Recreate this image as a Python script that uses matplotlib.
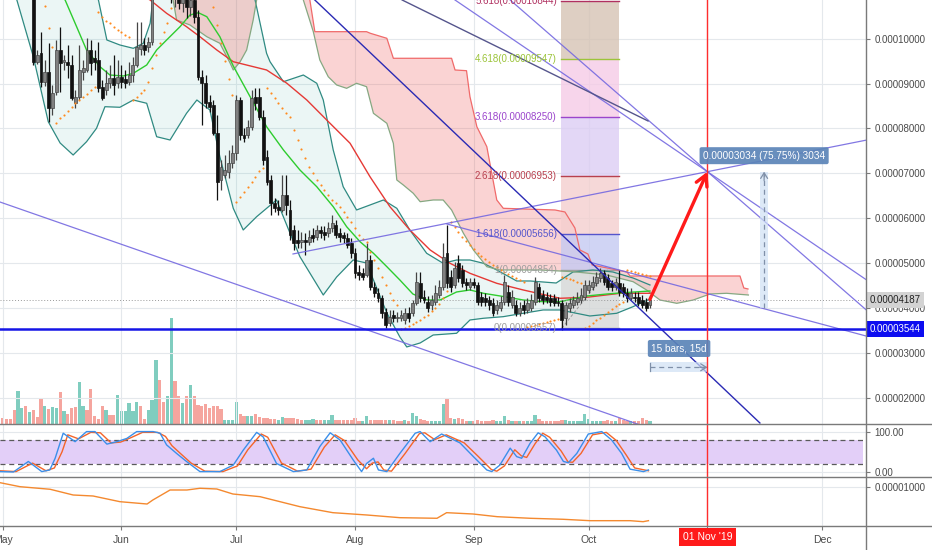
import numpy as np
import pandas as pd
import matplotlib
matplotlib.use("Agg")
import matplotlib.pyplot as plt
import matplotlib.transforms as mtransforms
from matplotlib.lines import Line2D
from matplotlib.ticker import FuncFormatter

plt.rcParams['font.family'] = ['Liberation Sans', 'DejaVu Sans']

base = pd.Timestamp('2019-05-01')          # day 0 of the x axis
# prices are in satoshi (1e-8 BTC)

# ---- daily candles, first one on day 8 (2019-05-09)
first_day = 8
opens = [
    11080, 9480, 9680, 9035, 9257, 8456, 8812, 9747, 9480, 9480,
    9413, 8567, 8701, 9257, 9302, 9747, 9569, 9524, 8923, 8857,
    9012, 9124, 9012, 9146, 9101, 9035, 9190, 9413, 9769, 9858,
    9813, 9925, 11080, 11350, 11200, 11500, 11150, 10950, 11200, 10800,
    11000, 10700, 10850, 10481, 9146, 9012, 8590, 8523, 7900, 6854,
    6965, 7032, 7232, 7455, 8634, 7855, 7855, 8033, 8701, 8701,
    8256, 7366, 6854, 6342, 6253, 6187, 6520, 6187, 5742, 5519,
    5475, 5519, 5475, 5630, 5586, 5742, 5697, 5675, 5786, 5853,
    5675, 5630, 5564, 5452, 5230, 4807, 4785, 4740, 5074, 4473,
    4340, 4229, 3917, 3672, 3850, 3784, 3784, 3739, 3895, 3895,
    4117, 4562, 4251, 4140, 4073, 4140, 4295, 4473, 5230, 4696,
    4518, 5007, 4852, 4585, 4473, 4585, 4518, 4251, 4229, 4184,
    4117, 3962, 4006, 4140, 4362, 4073, 4073, 3895, 4073, 3962,
    4006, 4140, 4473, 4295, 4251, 4229, 4229, 4140, 4117, 3784,
    4006, 4073, 4140, 4184, 4251, 4407, 4473, 4562, 4674, 4785,
    4674, 4562, 4473, 4562, 4473, 4340, 4229, 4251, 4251, 4184,
    4140, 4073]
highs = [
    11300, 9747, 10147, 9524, 9902, 8968, 9969, 10258, 9635, 9858,
    9635, 8857, 9858, 9524, 10014, 9969, 9747, 9925, 9079, 9302,
    9413, 9635, 9524, 9413, 9302, 9480, 9591, 10370, 10370, 10014,
    10036, 11527, 11600, 11700, 11800, 11700, 11400, 11400, 11300, 11200,
    11100, 11000, 11000, 10636, 9302, 9190, 8745, 8634, 8300, 7299,
    7410, 7522, 7633, 8745, 8701, 8011, 8189, 8857, 8901, 8901,
    8412, 7522, 6965, 6454, 6409, 6965, 6965, 6409, 5853, 5742,
    5697, 5675, 5742, 5786, 5853, 5831, 5831, 5920, 6075, 5964,
    5786, 5697, 5675, 5564, 5341, 4963, 4896, 5452, 5185, 4585,
    4451, 4295, 4006, 3962, 3962, 3917, 3962, 4006, 4028, 4184,
    4807, 4807, 4407, 4273, 4295, 4518, 4629, 5452, 5853, 4852,
    5030, 5185, 4963, 4674, 4674, 4674, 4585, 4362, 4340, 4273,
    4229, 4184, 4273, 4740, 4518, 4407, 4184, 4140, 4184, 4229,
    4318, 4696, 4562, 4407, 4362, 4318, 4318, 4251, 4184, 4140,
    4229, 4273, 4362, 4451, 4629, 4629, 4718, 4807, 4896, 4852,
    4763, 4629, 4674, 4852, 4562, 4451, 4451, 4362, 4362, 4295,
    4229, 4273]
lows = [
    9413, 9435, 8923, 8945, 8145, 8300, 8745, 8812, 9302, 9124,
    8634, 8456, 8634, 9079, 9257, 9190, 9302, 8812, 8634, 8745,
    8901, 8745, 8901, 8901, 8901, 8968, 9035, 9368, 9635, 9635,
    9702, 9858, 10900, 11000, 11100, 11000, 10800, 10700, 10650, 10600,
    10450, 10500, 10350, 9079, 8078, 8456, 8367, 7855, 6409, 6632,
    6899, 6899, 7121, 7299, 7744, 7700, 7789, 7967, 8412, 8189,
    7188, 6743, 6075, 6142, 6075, 6142, 6075, 5519, 5297, 5341,
    5341, 5185, 5408, 5475, 5519, 5564, 5519, 5586, 5697, 5564,
    5475, 5452, 5341, 5119, 4674, 4629, 4629, 4696, 4407, 4251,
    4140, 3784, 3561, 3606, 3695, 3695, 3717, 3650, 3695, 3828,
    4073, 4140, 4117, 3917, 3962, 4073, 4229, 4407, 4451, 4362,
    4451, 4585, 4473, 4407, 4407, 4451, 4073, 4051, 4051, 3962,
    3828, 3873, 3939, 4073, 4051, 4006, 3828, 3828, 3873, 3895,
    3939, 4073, 4140, 4095, 4117, 4051, 4051, 4051, 3517, 3628,
    3917, 4006, 4073, 4117, 4184, 4340, 4407, 4496, 4585, 4518,
    4407, 4384, 4407, 4273, 4251, 4140, 4184, 4140, 4051, 4006,
    3939, 4006]
closes = [
    9480, 9635, 9035, 9257, 8456, 8790, 9747, 9457, 9524, 9413,
    8679, 8701, 9302, 9346, 9747, 9457, 9480, 8901, 8679, 9012,
    9124, 8968, 9146, 9035, 9012, 9190, 9413, 9813, 9858, 9747,
    9925, 11080, 11350, 11200, 11500, 11150, 10950, 11200, 10800, 11000,
    10700, 10850, 10480, 9146, 9012, 8567, 8478, 7900, 6810, 7143,
    7077, 7232, 7455, 8634, 7855, 7789, 8033, 8679, 8567, 8256,
    7299, 6810, 6342, 6231, 6187, 6520, 6298, 5630, 5452, 5452,
    5519, 5475, 5586, 5564, 5742, 5675, 5630, 5786, 5897, 5630,
    5586, 5564, 5408, 5230, 4785, 4740, 4696, 5074, 4473, 4340,
    4229, 3895, 3628, 3806, 3784, 3806, 3850, 3895, 3784, 4117,
    4585, 4229, 4184, 4006, 4184, 4340, 4473, 5141, 4562, 4473,
    4896, 4674, 4562, 4518, 4585, 4518, 4140, 4140, 4140, 4073,
    3895, 4073, 4140, 4585, 4140, 4251, 3895, 4006, 3962, 4117,
    4184, 4585, 4229, 4184, 4184, 4140, 4117, 4117, 3739, 4073,
    4117, 4184, 4229, 4295, 4518, 4518, 4585, 4696, 4785, 4585,
    4473, 4473, 4585, 4362, 4340, 4229, 4340, 4229, 4117, 4073,
    4006, 4187]

# ---- volume (arbitrary units), first bar on day -1, u = up bar, d = down bar
vol_first_day = -1
volumes = [
    9, 6, 5, 5, 14, 33, 16, 18, 12, 14,
    7, 25, 18, 15, 17, 16, 32, 13, 10, 16,
    17, 42, 18, 14, 35, 8, 5, 18, 14, 9,
    9, 29, 13, 13, 21, 13, 22, 18, 5, 14,
    24, 64, 44, 22, 28, 106, 43, 28, 21, 28,
    39, 28, 19, 18, 20, 16, 18, 18, 15, 4,
    4, 4, 22, 10, 8, 8, 8, 10, 7, 6,
    6, 5, 5, 4, 7, 6, 6, 6, 5, 4,
    4, 4, 5, 4, 4, 4, 4, 9, 4, 4,
    4, 4, 4, 6, 3, 3, 8, 4, 4, 4,
    4, 4, 4, 4, 3, 3, 4, 3, 11, 8,
    5, 4, 3, 3, 3, 3, 20, 25, 6, 5,
    6, 5, 3, 3, 3, 4, 3, 3, 3, 4,
    3, 3, 8, 4, 3, 3, 3, 3, 3, 3,
    9, 5, 3, 3, 3, 3, 3, 4, 4, 3,
    3, 3, 3, 10, 5, 3, 3, 3, 3, 4,
    3, 3, 6, 4, 3, 3, 3, 3, 6, 4,
    3]
vol_side = ("ddddduudud dduduududd duudddddud duuuuuuddu uudduuddud "
            "uddddddddu uuudduuddd ddduuddddd uuudduuudd ddddduuddd "
            "dduddduduu ddduuuuddu dddudddddd uuudududuu uddddddduu "
            "uuuuuuuudd dudddudddd u").replace(" ", "")

# ---- Bollinger bands and moving average (day, price)
bb_up_days = [-1, 10, 20, 25.0, 27.2, 30.6, 34.1, 36.7, 38.5, 39.2, 45, 55, 62, 65.9, 68.9,
              69.8, 73.3, 78.5, 82.0, 83.7, 86.3, 88.9, 92.4, 95.9, 99.4, 102.9, 106.3, 110.7,
              115.0, 118.5, 122.0, 125.5, 129.0, 134.2, 137.7, 144.5, 148.9, 154.1, 159.3,
              164.6, 169.0]
bb_up_vals = [12300, 11900, 11300, 10859, 9969, 9858, 9784, 9896, 10341, 10859, 12100, 12300,
              11400, 10859, 9673, 9486, 9041, 9190, 9006, 8634, 7522, 6705, 6187, 6298, 6409,
              6224, 5742, 5223, 5001, 5074, 5074, 5001, 4852, 4607, 4607, 4562, 4807, 4852,
              4807, 4673, 4518]
bb_lo_days = [-1, 3.7, 8.0, 11.9, 15.0, 18.4, 21.9, 24.5, 26.7, 30.6, 34.1, 37.6, 40.2, 43.7,
              48.0, 50.7, 54.1, 56.7, 60.2, 62.8, 66.3, 71.5, 75.0, 77.6, 83.7, 87.2, 91.5,
              95.0, 100.3, 103.7, 105.5, 109.0, 112.4, 118.5, 122.0, 125.5, 130.7, 135.9,
              141.1, 145.5, 153.3, 160.3, 164.6, 169.0]
bb_lo_vals = [11400, 10859, 9597, 8151, 7677, 7410, 7706, 8004, 8485, 8472, 8634, 8561, 7817,
              7744, 8338, 8634, 8412, 7372, 6224, 5742, 6037, 6409, 5675, 5148, 4295, 4696,
              5074, 5007, 3895, 3361, 3139, 3228, 3405, 3443, 3739, 3777, 3813, 3888, 3962,
              3962, 3828, 3888, 4036, 4206]
bb_mid_days = [-1, 8, 16.3, 19.3, 21.9, 25.4, 28.0, 31.5, 34.1, 37.6, 40.2, 42.8, 46.3, 48.9,
               51.1, 53.3, 56.7, 60.2, 64.6, 68.9, 73.3, 77.6, 82.0, 86.3, 89.8, 93.3, 96.8,
               100.3, 103.7, 107.1, 110.8, 114.2, 118.5, 122.0, 125.5, 130.7, 135.9, 141.1,
               145.5, 152.5, 157.7, 162.9, 169.0]
bb_mid_vals = [12000, 11600, 10859, 10265, 9747, 9375, 9190, 9168, 9228, 9413, 9747, 9969,
               10265, 10525, 10576, 10487, 10042, 9390, 8707, 8040, 7522, 7077, 6705, 6260,
               5815, 5481, 5223, 4925, 4629, 4317, 4184, 4184, 4362, 4407, 4333, 4262, 4184,
               4146, 4146, 4273, 4317, 4351, 4384]
ma_days = [-1, 20, 38.5, 42.8, 48.0, 51.5, 55.9, 60.2, 68.9, 74.2, 79.4, 84.6, 90.7, 95.9,
           101.1, 106.3, 111.6, 116.8, 122.0, 129.0, 135.9, 145.5, 152.5, 161.2, 169.0]
ma_vals = [12600, 11700, 10859, 10563, 10265, 10042, 9747, 9486, 9302, 9006, 8634, 8189,
           7671, 6927, 6260, 5742, 5297, 5001, 4778, 4555, 4407, 4222, 4244, 4333, 4333]

# ---- Ichimoku cloud edges
span_lo_days = [40, 44.5, 45.4, 48.9, 53.3, 56.7, 59.4, 60.2, 62.0, 63.7, 65.4, 66.3, 72, 76,
                78.5, 81.1, 82.8, 85.0, 87.2, 89.8, 92.4, 95.0, 96.8, 100.3, 102.0, 102.9,
                104.6, 107.2, 109.0, 112.4, 115.0, 117.2, 120.3, 122.9, 126.4, 129.8, 140.3,
                148.9, 157.7, 164.6, 168.1, 171.6, 176.0, 180.3, 184.7, 189.0, 194.7]
span_lo_vals = [11500, 10859, 10414, 10303, 10042, 9896, 9451, 9302, 9486, 9747, 10414,
                10859, 11600, 11400, 10859, 10154, 9524, 9152, 8968, 8894, 9006, 8930, 8338,
                8115, 7670, 6854, 6743, 6558, 6371, 6409, 6409, 6187, 5668, 5297, 4925, 4852,
                4852, 4814, 4740, 4591, 4407, 4184, 4110, 4184, 4318, 4333, 4295]
span_hi_days = [40, 70, 78, 80.2, 81.5, 95.0, 96.0, 100.3, 102.0, 117.2, 118.1, 121.1, 122.0,
                123.8, 126.4, 129.0, 130.7, 144.2, 146.8, 149.4, 150.7, 152.8, 153.9, 163.0,
                163.8, 192.5, 193.5, 194.6]
span_hi_vals = [12500, 11800, 11500, 10859, 10154, 10154, 10118, 10007, 9562, 9562, 9302,
                9286, 8707, 8040, 7595, 6409, 6224, 6187, 6142, 5786, 5297, 5207, 4963, 4807,
                4718, 4718, 4451, 4429]

# ---- parabolic SAR: (first day, values)
sar_segments = [
    (11, [10726, 10236, 9813]),
    (14, [8116, 8227, 8300, 8389, 8472, 8561, 8634, 8707, 8767, 8857, 8930]),
    (25, [10599, 10487, 10398, 10341, 10265, 10192, 10140, 10080, 10029]),
    (34, [8634, 8707, 8783, 8857, 9041, 9339, 9635, 9909, 10154, 10341, 10674]),
    (55, [10700, 10300, 9900, 9500, 9100, 8750]),
    (61, [6371, 6476, 6587, 6698, 6809, 6921, 7054, 7121]),
    (69, [8894, 8783, 8672, 8561, 8449, 8351, 8249, 7967, 7744, 7537, 7337, 7150, 7003, 6854,
          6743, 6632, 6520, 6409, 6336, 6247, 6149, 6037, 5926, 5779, 5630, 5540, 5470, 5250,
          5080, 4889, 4702, 4518, 4333, 4184, 4073]),
    (104, [3539, 3570, 3600, 3640, 3690, 3740, 3800, 3860, 3930, 4000, 4100, 4230, 4380]),
    (117, [5920, 5808, 5697, 5586, 5497, 5408, 5319, 5230, 5163, 5096, 5030, 4963, 4918, 4852,
           4807, 4763, 4718, 4674, 4629, 4585]),
    (137, [3583, 3605, 3628, 3650, 3672, 3694, 3717, 3739, 3761]),
    (146, [4696, 4674, 4651, 4629, 4585, 4562]),
    (152, [3561, 3606, 3672, 3739, 3784, 3850, 3917, 3984, 4051, 4095, 4140]),
    (163, [4852, 4829, 4807, 4785, 4763, 4740, 4718]),
]

# ---- stochastic RSI
stk_days = [-0.7, 2.8, 6.7, 10.2, 12.3, 13.7, 15.8, 18.9, 21.9, 24.1, 27.2, 29.8, 32.4, 35.0,
            39.3, 41.1, 42.8, 45.4, 48.0, 51.5, 56.7, 60.2, 62.8, 66.3, 68.0, 71.5, 75.9, 79.4,
            82.8, 85.5, 88.1, 91.5, 93.7, 95.0, 96.8, 98.1, 100.3, 103.7, 107.7, 109.0, 111.6,
            114.6, 119.4, 122.9, 126.4, 127.7, 129.8, 132.5, 134.2, 135.5, 137.7, 139.8,
            141.6, 144.6, 146.4, 147.7, 149.9, 152.9, 156.4, 159.0, 161.6, 163.8, 167.3, 168.6]
stk_vals = [1, 0, 26, 1, 5, 34, 96, 75, 100, 100, 69, 75, 83, 100, 100, 96, 67, 46, 26, 1,
            1, 17, 54, 98, 87, 21, 1, 5, 63, 97, 79, 30, 1, 21, 34, 5, 1, 46, 96, 100,
            75, 94, 72, 38, 5, 1, 17, 59, 38, 34, 71, 97, 87, 54, 26, 23, 46, 94, 100, 79,
            46, 7, 1, 5]
std_days = [-0.7, 3.5, 7.8, 11.3, 13.5, 15.5, 17.0, 19.8, 23.0, 25.5, 28.3, 30.8, 33.5, 36.5,
            40.5, 42.5, 44.2, 46.5, 49.2, 52.8, 57.5, 61.3, 64.0, 67.5, 69.2, 72.8, 77.0, 80.5,
            84.0, 86.8, 89.2, 92.7, 95.0, 96.5, 98.0, 99.5, 101.5, 105.0, 108.8, 110.2, 112.8,
            115.8, 120.5, 124.0, 127.6, 129.0, 131.0, 133.7, 135.4, 136.8, 139.0, 141.0,
            142.8, 145.8, 147.6, 148.8, 151.0, 154.0, 157.6, 160.2, 162.8, 165.0, 168.6]
std_vals = [3, 1, 22, 3, 10, 50, 92, 82, 98, 97, 72, 74, 85, 98, 98, 88, 65, 45, 22, 2,
            1, 15, 55, 94, 86, 22, 2, 7, 62, 92, 78, 30, 8, 22, 25, 5, 2, 45, 95, 97,
            80, 92, 72, 40, 6, 2, 15, 55, 40, 36, 70, 96, 86, 52, 25, 24, 46, 92, 98, 78,
            42, 10, 3]

# ---- lower indicator
ind_days = [-0.7, 4.5, 12.4, 18.4, 23.6, 30.6, 37.7, 39.2, 43.7, 48.1, 51.5, 55.9, 60.1, 67.2,
            77.6, 86.2, 95.1, 103.7, 113.4, 115.9, 122.8, 129.1, 137.7, 146.3, 153.3, 163.8,
            167.2, 168.6]
ind_vals = [1108, 1008, 943, 800, 775, 633, 575, 675, 925, 925, 968, 950, 825, 758, 508, 358,
            300, 233, 218, 358, 325, 258, 218, 193, 158, 158, 133, 158]

# ---- drawings: (day, price) end points
trend_lines = [
    ([-0.7, 180.0], [6364, 1000]),
    ([116.0, 225.4], [5875, 3383]),
    ([75.8, 225.4], [5208, 7740]),
    ([118.1, 225.4], [10859, 4639]),
    ([132.5, 225.4], [10859, 3968]),
]
blue_line = ([81.5, 197.7], [10859, 1447])
dark_line = ([104.3, 168.5], [10859, 8167])
fib_ratio = [0, 1, 1.618, 2.618, 3.618, 4.618, 5.618]
fib_price = [3557, 4854, 5656, 6953, 8250, 9547, 10844]
fib_start, fib_end = 145.8, 160.8
support = 3544
target_day = (pd.Timestamp('2019-11-01') - base).days
target_price = 7039
range_low = 4005
range_day = 198.8
bars_ahead = 15

# ------------------------------------------------------------------ layout
W, H = 932, 550
fig = plt.figure(figsize=(W / 100, H / 100), dpi=100)
fig.patch.set_facecolor('white')


def rect(top, bottom, right=866):
    return [0, 1 - bottom / H, right / W, (bottom - top) / H]


ax_vol = fig.add_axes(rect(318, 424.3))
ax = fig.add_axes(rect(0, 424.3))
ax_st = fig.add_axes(rect(425, 477))
ax_bt = fig.add_axes(rect(477, 525.7))
ax.patch.set_alpha(0)

x0, x1 = -0.7, 225.4
months = pd.date_range('2019-05-01', '2019-12-01', freq='MS')
month_pos = np.array((months - base).days)
month_lbl = [m.strftime('%b') if m.month != 11 else '' for m in months]
grid_c = '#e4e8ec'
axis_c = '#7a7a7a'
txt_c = '#4a4a4a'

for a in (ax_vol, ax, ax_st, ax_bt):
    a.set_xlim(x0, x1)
    for s in a.spines.values():
        s.set_visible(False)
ax_vol.axis('off')

for a in (ax, ax_st, ax_bt):
    a.set_xticks(month_pos)
    a.grid(True, color=grid_c, lw=0.8)
    a.set_axisbelow(True)
    a.yaxis.tick_right()
    a.tick_params(axis='y', length=3, width=0.8, pad=3, colors=axis_c,
                  labelcolor=txt_c, labelsize=7)
for a in (ax, ax_st):
    a.tick_params(axis='x', length=0, labelbottom=False)
ax_bt.set_xticklabels(month_lbl)
ax_bt.tick_params(axis='x', length=3, width=0.8, pad=4, colors=axis_c,
                  labelcolor=txt_c, labelsize=7.5)

price_fmt = FuncFormatter(lambda v, p: f"{v / 1e8:.8f}")

# ------------------------------------------------------------------ volume
vdays = np.arange(vol_first_day, vol_first_day + len(volumes))
vcol = ['#80cdbf' if s == 'u' else '#f5a59e' for s in vol_side]
ax_vol.bar(vdays, volumes, width=0.85, color=vcol, linewidth=0)
ax_vol.set_ylim(0, 106.3)

# ------------------------------------------------------------------ main pane
ax.set_ylim(1418, 10859)
ax.set_yticks(np.arange(2000, 10001, 1000))
ax.yaxis.set_major_formatter(price_fmt)

ax.fill(np.concatenate([bb_up_days, bb_lo_days[::-1]]),
        np.concatenate([bb_up_vals, bb_lo_vals[::-1]]),
        color='#26a69a', alpha=0.09, lw=0, zorder=1)
ax.fill(np.concatenate([span_hi_days, span_lo_days[::-1]]),
        np.concatenate([span_hi_vals, span_lo_vals[::-1]]),
        color='#ef5350', alpha=0.25, lw=0, zorder=1.2)

# fibonacci extension boxes
fib_fill = ['#d9d9d9', '#c5caf2', '#f4cfcf', '#dccdf4', '#f5cbe6', '#d6c3b4']
fib_line = ['#9e9e9e', '#9e9e9e', '#5555cc', '#b8404e', '#9b45cc', '#9cc43a', '#b03060']
for i in range(len(fib_price) - 1):
    ax.fill_between([fib_start, fib_end], fib_price[i], fib_price[i + 1],
                    color=fib_fill[i], alpha=0.8, lw=0, zorder=1.4)
for r, p, c in zip(fib_ratio, fib_price, fib_line):
    ax.plot([fib_start, fib_end], [p, p], color=c, lw=1, zorder=2)
    ax.text(fib_start - 1.1, p, f"{r:g}({p / 1e8:.8f})", color=c, fontsize=7,
            ha='right', va='center', zorder=9)
ax.plot([146, 158], [fib_price[0], fib_price[1]], color='#9a9a9a', lw=0.7,
        ls=(0, (3, 2)), zorder=2)

ax.plot(bb_up_days, bb_up_vals, color='#2f8a82', lw=0.9, zorder=2)
ax.plot(bb_lo_days, bb_lo_vals, color='#2f8a82', lw=0.9, zorder=2)
ax.plot(span_lo_days, span_lo_vals, color='#86a882', lw=0.9, zorder=2)
ax.plot(span_hi_days, span_hi_vals, color='#f06a6a', lw=0.9, zorder=2)
ax.plot(ma_days, ma_vals, color='#e53935', lw=1.0, zorder=3)
ax.plot(bb_mid_days, bb_mid_vals, color='#2ecc2e', lw=1.0, zorder=3)

# candles
o, h, l, c = (np.array(v, float) for v in (opens, highs, lows, closes))
days = np.arange(first_day, first_day + len(c))
up = c >= o
body_c = np.where(up, '#808080', '#111111')
edge_c = np.where(up, '#444444', '#111111')
ax.vlines(days, l, h, colors=edge_c, lw=0.9, zorder=4)
ax.bar(days, np.maximum(np.abs(c - o), 20), bottom=np.minimum(o, c), width=0.75,
       color=body_c, edgecolor=edge_c, lw=0.5, zorder=5)

for start, vals in sar_segments:
    ax.scatter(np.arange(start, start + len(vals)), vals, s=2.4, color='#ff8a1e',
               lw=0, zorder=5.5)

# drawings
for xs, ys in trend_lines:
    ax.plot(xs, ys, color='#7468e0', lw=0.9, alpha=0.9, zorder=6)
ax.plot(*blue_line, color='#2a2ab4', lw=1.0, zorder=6)
ax.plot(*dark_line, color='#55558c', lw=1.0, zorder=6)
ax.axhline(support, color='#1515e6', lw=1.8, zorder=6.5)
ax.axhline(closes[-1], color='#999999', lw=0.7, ls=(0, (1, 2)), zorder=3)

ax.annotate('', xy=(target_day, target_price), xytext=(days[-1], closes[-1] + 13),
            arrowprops=dict(arrowstyle='->,head_length=0.55,head_width=0.3',
                            color='#ff1a1a', lw=2.4, shrinkA=0, shrinkB=0,
                            mutation_scale=14), zorder=8)

# price range measure
ax.fill_betweenx([range_low, target_price], range_day - 1, range_day + 1,
                 color='#cfe0f5', alpha=0.7, lw=0, zorder=6)
ax.plot([range_day, range_day], [range_low, target_price - 40], color='#8090a8', lw=0.9,
        ls=(0, (4, 3)), zorder=6.2)
ax.annotate('', xy=(range_day, target_price), xytext=(range_day, target_price - 200),
            arrowprops=dict(arrowstyle='->,head_length=0.4,head_width=0.25',
                            color='#8090a8', lw=0.9, shrinkA=0, shrinkB=0), zorder=6.2)
ax.text(range_day, 7395, '0.00003034 (75.75%) 3034', color='white', fontsize=7.2,
        ha='center', va='center', zorder=9,
        bbox=dict(boxstyle='round,pad=0.35,rounding_size=0.2', fc='#5b84b8', ec='none',
                  alpha=0.92))

# date range measure
dr_y = 2686
ax.fill_between([days[-1], days[-1] + bars_ahead], dr_y - 111, dr_y + 111,
                color='#cfe0f5', alpha=0.7, lw=0, zorder=6)
ax.plot([days[-1], days[-1] + bars_ahead - 0.4], [dr_y, dr_y], color='#7f90a8', lw=0.9,
        ls=(0, (4, 3)), zorder=6.2)
ax.plot([days[-1], days[-1]], [dr_y - 90, dr_y + 90], color='#7f90a8', lw=0.9, zorder=6.2)
ax.annotate('', xy=(days[-1] + bars_ahead, dr_y), xytext=(days[-1] + bars_ahead - 2, dr_y),
            arrowprops=dict(arrowstyle='->,head_length=0.4,head_width=0.25',
                            color='#7f90a8', lw=0.9, shrinkA=0, shrinkB=0), zorder=6.2)
ax.text(days[-1] + 7.6, 3105, '15 bars, 15d', color='white', fontsize=7.2,
        ha='center', va='center', zorder=9,
        bbox=dict(boxstyle='round,pad=0.35,rounding_size=0.2', fc='#5b84b8', ec='none',
                  alpha=0.92))

# right price labels
bt = mtransforms.blended_transform_factory(ax.transAxes, ax.transData)
ax.text(1.004, closes[-1], f"{closes[-1] / 1e8:.8f}", transform=bt, ha='left',
        va='center', fontsize=7, color='#222222', clip_on=False, zorder=10,
        bbox=dict(boxstyle='square,pad=0.32', fc='#d3d3d3', ec='none'))
ax.text(1.004, support, f"{support / 1e8:.8f}", transform=bt, ha='left', va='center',
        fontsize=7, color='white', clip_on=False, zorder=10,
        bbox=dict(boxstyle='square,pad=0.32', fc='#0d0df0', ec='none'))

# ------------------------------------------------------------------ stoch RSI pane
ax_st.set_ylim(-12.4, 116.3)
ax_st.set_yticks([0, 100])
ax_st.set_yticklabels(['0.00', '100.00'])
ax_st.fill_between([x0, 224.6], 20, 80, color='#e3cff8', lw=0, zorder=1)
for lvl in (20, 80):
    ax_st.axhline(lvl, color='#5a5a5a', lw=0.9, ls=(0, (4, 3)), zorder=2)
ax_st.plot(std_days, std_vals, color='#f4652a', lw=1.0, zorder=3)
ax_st.plot(stk_days, stk_vals, color='#3b8fea', lw=1.0, zorder=3)

# ------------------------------------------------------------------ lower pane
ax_bt.set_ylim(32.5, 1250)
ax_bt.set_yticks([1000])
ax_bt.yaxis.set_major_formatter(price_fmt)
ax_bt.plot(ind_days, ind_vals, color='#f4892f', lw=1.0, zorder=3)

# target date
for a in (ax, ax_st, ax_bt):
    a.axvline(target_day, color='#ff2d2d', lw=1.0, zorder=7)
bx = mtransforms.blended_transform_factory(ax_bt.transData, ax_bt.transAxes)
ax_bt.text(target_day, -0.235, "01 Nov '19", transform=bx, ha='center', va='center',
           fontsize=7.5, color='white', clip_on=False, zorder=10,
           bbox=dict(boxstyle='square,pad=0.38', fc='#ff1a1a', ec='none'))

# pane separators and price axis line
for yy in (424.3, 477, 525.7):
    fig.add_artist(Line2D([0, 1], [1 - yy / H] * 2, transform=fig.transFigure,
                          color=axis_c, lw=1))
fig.add_artist(Line2D([866 / W] * 2, [0, 1], transform=fig.transFigure, color=axis_c, lw=1))

fig.savefig('out.png', dpi=100)
